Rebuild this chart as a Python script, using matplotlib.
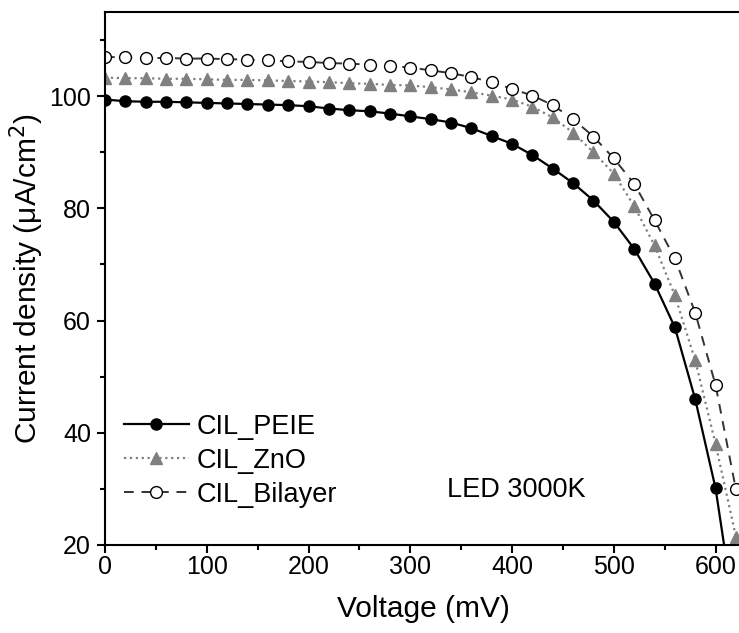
import matplotlib
matplotlib.use('Agg')
import matplotlib.pyplot as plt
from matplotlib.ticker import MultipleLocator
import numpy as np

plt.rcParams['font.family'] = ['Liberation Sans', 'DejaVu Sans']

#----------------------------数据----------------------------
voltage = np.arange(0, 640, 20)  # mV, 0 ~ 620

j_peie = [99.4, 99.1, 99.0, 99.0, 98.9, 98.8, 98.7, 98.6, 98.5, 98.4,
          98.2, 97.8, 97.5, 97.3, 96.9, 96.4, 95.9, 95.3, 94.3, 92.9,
          91.5, 89.5, 87.1, 84.5, 81.4, 77.6, 72.8, 66.6, 58.8, 46.0,
          30.1, 6.0]
j_zno = [103.3, 103.2, 103.2, 103.1, 103.1, 103.0, 102.9, 102.9, 102.8, 102.7,
         102.6, 102.5, 102.3, 102.2, 102.0, 101.9, 101.6, 101.2, 100.7, 100.1,
         99.4, 98.1, 96.2, 93.5, 90.0, 86.2, 80.4, 73.4, 64.5, 52.9,
         38.0, 21.5]
j_bilayer = [107.0, 106.9, 106.8, 106.8, 106.7, 106.7, 106.6, 106.5, 106.4, 106.2,
             106.1, 105.9, 105.8, 105.6, 105.4, 105.1, 104.6, 104.1, 103.4, 102.5,
             101.3, 100.1, 98.4, 95.9, 92.8, 88.9, 84.4, 77.9, 71.1, 61.4,
             48.5, 29.9]

labels = ['CIL_PEIE', 'CIL_ZnO', 'CIL_Bilayer']
note = 'LED 3000K'
#------------------------------------------------------------

fig = plt.figure(figsize=(7.39, 6.33), dpi=100)
ax = fig.add_axes([105 / 739, 88 / 633, 636 / 739, 533 / 633])

ax.plot(voltage, j_peie, '-', color='black', lw=1.6, marker='o', ms=8,
        mfc='black', mec='black', label=labels[0], zorder=3)
ax.plot(voltage, j_zno, ':', color='#808080', lw=1.6, marker='^', ms=9,
        mfc='#808080', mec='#808080', label=labels[1], zorder=2)
ax.plot(voltage, j_bilayer, color='#333333', lw=1.4, dashes=(5, 4),
        marker='o', ms=8.5, mfc='white', mec='black', mew=1.0,
        label=labels[2], zorder=2)

ax.set_xlim(0, 625)
ax.set_ylim(20, 115)
ax.xaxis.set_major_locator(MultipleLocator(100))
ax.xaxis.set_minor_locator(MultipleLocator(50))
ax.yaxis.set_major_locator(MultipleLocator(20))
ax.yaxis.set_minor_locator(MultipleLocator(10))

ax.tick_params(which='both', direction='out', width=1.5, labelsize=18)
ax.tick_params(which='major', length=6)
ax.tick_params(which='minor', length=3.5)
ax.tick_params(axis='x', pad=1.5)
ax.tick_params(axis='y', pad=4)
ax.spines['right'].set_visible(False)
for s in ['left', 'bottom', 'top']:
    ax.spines[s].set_linewidth(1.5)

ax.set_xlabel('Voltage (mV)', fontsize=21.5, labelpad=11)
ax.set_ylabel('Current density (\u03bcA/cm$^2$)', fontsize=21.5, labelpad=2)

ax.text(336, 29.8, note, fontsize=19.5, va='center', ha='left')

leg = ax.legend(loc='upper left', bbox_to_anchor=(0.0, 0.282), frameon=False,
                fontsize=19.5, handlelength=2.4, handletextpad=0.3,
                labelspacing=0.3, numpoints=1, borderaxespad=0.3)

plt.savefig('out.png', dpi=100)
